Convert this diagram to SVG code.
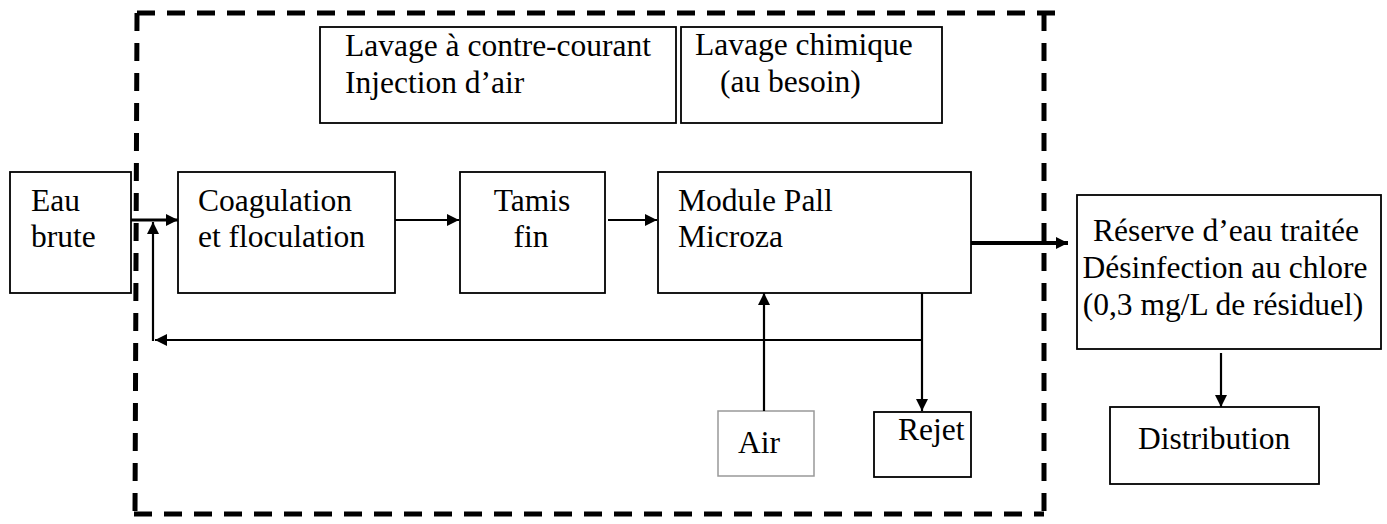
<svg xmlns="http://www.w3.org/2000/svg" width="1387" height="524" viewBox="0 0 1387 524">
<defs>
<marker id="ah" viewBox="0 0 10 10" refX="10" refY="5" markerWidth="14" markerHeight="12" markerUnits="userSpaceOnUse" orient="auto">
<path d="M0,0 L10,5 L0,10 z" fill="#000"/>
</marker>
<style>
.box{fill:#fff;stroke:#000;stroke-width:1.8}
.lbox{fill:#fff;stroke:#999;stroke-width:1.5}
text{font-family:'Liberation Serif','Times New Roman',serif;font-size:31.5px;fill:#000}
.c{text-anchor:middle}
.ln{stroke:#000;stroke-width:2.2;fill:none}
.dash{stroke:#000;stroke-width:5;fill:none;stroke-dasharray:18 12}
</style>
</defs>
<rect width="1387" height="524" fill="#fff"/>
<g id="boundary">
<line class="dash" x1="137" y1="13" x2="1062" y2="13"/>
<line class="dash" x1="137" y1="13" x2="135" y2="514"/>
<line class="dash" x1="134" y1="514" x2="1044" y2="514"/>
<line class="dash" x1="1044" y1="13" x2="1044" y2="514"/>
</g>
<g font-family="Liberation Serif, serif" font-size="31.5">
<g id="lavage-contre-courant">
<rect class="box" x="320" y="27" width="356" height="96"/>
<text x="345" y="56">Lavage à contre-courant</text>
<text x="345" y="93">Injection d’air</text>
</g>
<g id="lavage-chimique">
<rect class="box" x="681" y="27" width="261" height="96"/>
<text x="695" y="55">Lavage chimique</text>
<text x="720" y="92">(au besoin)</text>
</g>
<g id="eau-brute">
<rect class="box" x="10" y="172" width="121" height="121"/>
<text x="31" y="211">Eau</text>
<text x="31" y="247">brute</text>
</g>
<g id="coagulation">
<rect class="box" x="178" y="172" width="217" height="121"/>
<text x="198" y="211">Coagulation</text>
<text x="198" y="247">et floculation</text>
</g>
<g id="tamis">
<rect class="box" x="460" y="172" width="145" height="121"/>
<text class="c" x="532" y="211">Tamis</text>
<text class="c" x="531" y="247">fin</text>
</g>
<g id="module">
<rect class="box" x="658" y="172" width="313" height="121"/>
<text x="678" y="211">Module Pall</text>
<text x="678" y="247">Microza</text>
</g>
<g id="reserve">
<rect class="box" x="1077" y="195" width="304" height="154"/>
<text class="c" x="1226" y="241">Réserve d’eau traitée</text>
<text class="c" x="1225" y="278">Désinfection au chlore</text>
<text class="c" x="1223" y="315">(0,3 mg/L de résiduel)</text>
</g>
<g id="air">
<rect class="lbox" x="718" y="411" width="96" height="65"/>
<text x="738" y="453">Air</text>
</g>
<g id="rejet">
<rect class="box" x="874" y="412" width="97" height="65"/>
<text x="898" y="440">Rejet</text>
</g>
<g id="distribution">
<rect class="box" x="1110" y="407" width="209" height="77"/>
<text x="1138" y="449">Distribution</text>
</g>
</g>
<g id="connectors">
<line class="ln" x1="131" y1="220" x2="178" y2="220" style="stroke-width:3" marker-end="url(#ah)"/>
<line class="ln" x1="395" y1="220" x2="459" y2="220" marker-end="url(#ah)"/>
<line class="ln" x1="608" y1="220" x2="657" y2="220" marker-end="url(#ah)"/>
<line class="ln" x1="971" y1="243" x2="1068" y2="243" style="stroke-width:4" marker-end="url(#ah)"/>
<line class="ln" x1="922" y1="293" x2="922" y2="411" marker-end="url(#ah)"/>
<line class="ln" x1="922" y1="340" x2="155" y2="340" marker-end="url(#ah)"/>
<line class="ln" x1="153" y1="341" x2="153" y2="222" marker-end="url(#ah)"/>
<line class="ln" x1="764" y1="411" x2="764" y2="293" marker-end="url(#ah)"/>
<line class="ln" x1="1221" y1="353" x2="1221" y2="407" marker-end="url(#ah)"/>
</g>
</svg>
